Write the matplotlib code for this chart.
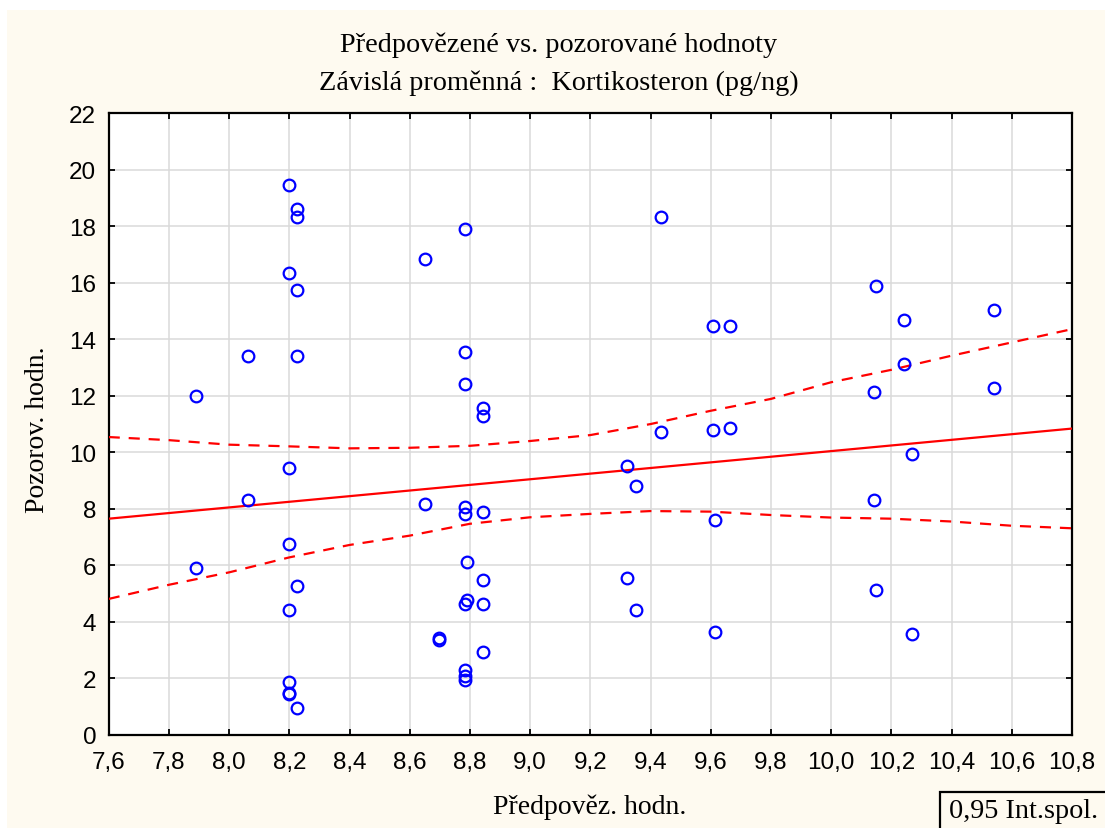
import numpy as np
import matplotlib
matplotlib.use("Agg")
import matplotlib.pyplot as plt
from matplotlib.patches import Rectangle
from matplotlib.ticker import FuncFormatter, MultipleLocator

# Predicted vs. observed values (Kortikosteron, pg/ng)
predicted = [
    7.891, 7.891,
    8.063, 8.063,
    8.198, 8.198, 8.198, 8.198, 8.198, 8.198, 8.198, 8.198,
    8.225, 8.225, 8.225, 8.225, 8.225, 8.225,
    8.650, 8.650,
    8.697, 8.697,
    8.784, 8.784, 8.784, 8.784, 8.784, 8.790, 8.790, 8.784, 8.784, 8.784, 8.784,
    8.843, 8.843, 8.843, 8.843, 8.843, 8.843,
    9.323, 9.323,
    9.350, 9.350,
    9.436, 9.436,
    9.609, 9.609, 9.614, 9.614,
    9.663, 9.663,
    10.148, 10.141, 10.141, 10.148,
    10.242, 10.242,
    10.268, 10.268,
    10.541, 10.541,
]
observed = [
    12.00, 5.90,
    13.42, 8.31,
    19.46, 16.34, 9.44, 6.75, 4.41, 1.86, 1.48, 1.43,
    18.61, 18.32, 15.76, 13.42, 5.27, 0.94,
    16.83, 8.17,
    3.42, 3.37,
    17.89, 13.56, 12.43, 8.05, 7.81, 6.11, 4.78, 4.62, 2.30, 2.07, 1.93,
    11.58, 11.30, 7.89, 5.47, 4.62, 2.93,
    9.53, 5.55,
    8.81, 4.41,
    18.32, 10.73,
    14.48, 10.80, 7.60, 3.63,
    14.48, 10.87,
    15.90, 12.15, 8.31, 5.12,
    14.69, 13.14,
    9.95, 3.56,
    15.05, 12.28,
]

# Regression line end points
fit_x = [7.6, 10.8]
fit_y = [7.65, 10.84]

# 0.95 confidence band
band_x = [7.6, 7.8, 8.0, 8.2, 8.4, 8.6, 8.8, 9.0, 9.2, 9.4, 9.6, 9.8,
          10.0, 10.2, 10.4, 10.6, 10.8]
band_upper = [10.54, 10.43, 10.27, 10.21, 10.14, 10.16, 10.23, 10.40, 10.61,
              11.00, 11.47, 11.89, 12.48, 12.92, 13.42, 13.89, 14.36]
band_lower = [4.81, 5.31, 5.75, 6.28, 6.72, 7.05, 7.47, 7.70, 7.82, 7.92,
              7.90, 7.78, 7.69, 7.65, 7.55, 7.40, 7.31]

cream = "#FEFAF0"
serif = ["Liberation Serif", "DejaVu Serif"]
sans = ["Liberation Sans", "DejaVu Sans"]

W, H = 1105, 829
fig = plt.figure(figsize=(W / 100, H / 100), dpi=100, facecolor="white")
fig.add_artist(Rectangle((7 / W, 0), 1, (H - 11) / H, transform=fig.transFigure,
                         facecolor=cream, edgecolor="none", zorder=-5))

ax = fig.add_axes([108.7 / W, (H - 735.8) / H, (1072 - 108.7) / W, (735.8 - 114.3) / H])
ax.set_facecolor("white")

ax.plot(predicted, observed, linestyle="none", marker="o", markersize=8.4,
        markerfacecolor="none", markeredgecolor="#0000FF", markeredgewidth=1.6,
        zorder=4, clip_on=False)
ax.plot(fit_x, fit_y, color="#FF0000", linewidth=1.6, zorder=3)
ax.plot(band_x, band_upper, color="#FF0000", linewidth=1.6, dashes=(5, 4), zorder=3)
ax.plot(band_x, band_lower, color="#FF0000", linewidth=1.6, dashes=(5, 4), zorder=3)

ax.set_xlim(7.6, 10.8)
ax.set_ylim(0, 22)
ax.xaxis.set_major_locator(MultipleLocator(0.2))
ax.yaxis.set_major_locator(MultipleLocator(2))
ax.xaxis.set_major_formatter(FuncFormatter(lambda v, p: f"{v:.1f}".replace(".", ",")))
ax.yaxis.set_major_formatter(FuncFormatter(lambda v, p: f"{v:.0f}"))

ax.grid(True, color="#DADADA", linewidth=1.1, zorder=0)
ax.set_axisbelow(True)
for s in ax.spines.values():
    s.set_linewidth(1.6)
    s.set_color("black")
ax.tick_params(direction="in", length=4.5, width=1.3, top=True, right=True,
               labelsize=17.5, colors="black")
ax.tick_params(axis="x", pad=12)
ax.tick_params(axis="y", pad=9)
for lab in ax.get_xticklabels() + ax.get_yticklabels():
    lab.set_fontfamily(sans)

fig.text(559 / W, 1 - 45 / H, "Předpovězené vs. pozorované hodnoty",
         ha="center", va="center", fontsize=20.3, family=serif)
fig.text(559 / W, 1 - 83 / H, "Závislá proměnná :  Kortikosteron (pg/ng)",
         ha="center", va="center", fontsize=20.3, family=serif)
fig.text(590 / W, 1 - 807 / H, "Předpověz. hodn.",
         ha="center", va="center", fontsize=20, family=serif)
fig.text(38 / W, 1 - 430 / H, "Pozorov. hodn.", rotation=90,
         ha="center", va="center", fontsize=20, family=serif)

fig.add_artist(Rectangle((940 / W, -0.02), 0.2, (829 - 793) / H + 0.02,
                         transform=fig.transFigure, facecolor=cream,
                         edgecolor="black", linewidth=1.6, zorder=2))
fig.text(1024 / W, 1 - 812 / H, "0,95 Int.spol.", ha="center", va="center",
         fontsize=20.3, family=serif, zorder=3)

fig.savefig("out.png", dpi=100, facecolor=fig.get_facecolor())
